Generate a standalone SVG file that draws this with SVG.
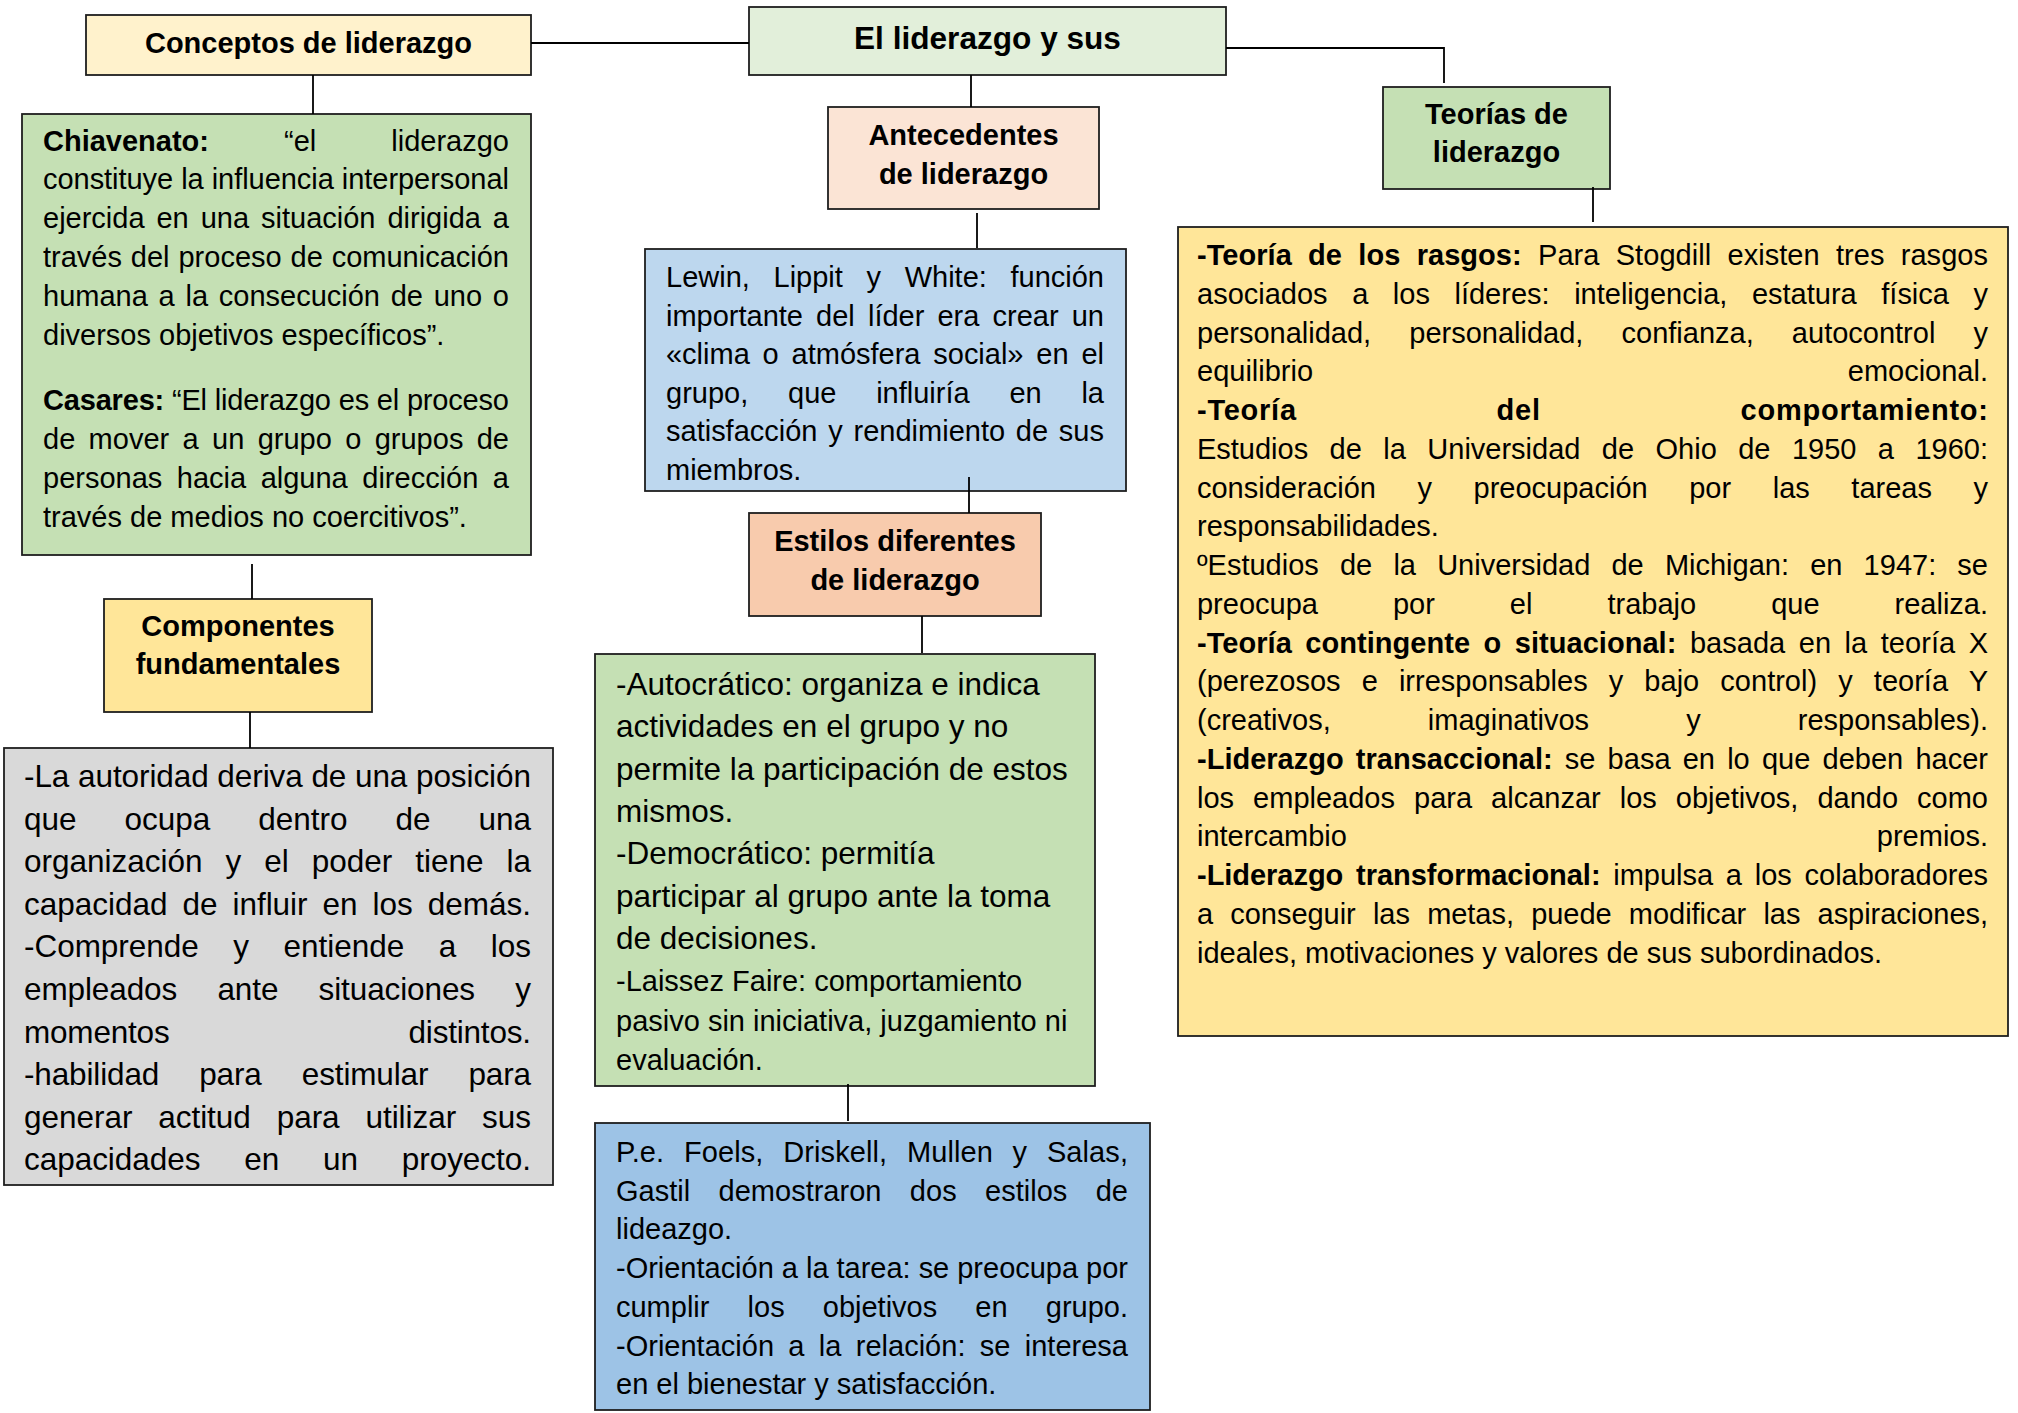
<svg xmlns="http://www.w3.org/2000/svg" width="2018" height="1413" viewBox="0 0 2018 1413">
<style>
text { font-family: "Liberation Sans", Arial, sans-serif; fill: #000; }
.hdr { font-weight: bold; font-size: 29px; text-anchor: middle; }
.title { font-weight: bold; font-size: 31.6px; text-anchor: middle; }
.body { font-size: 29px; }
.big { font-size: 31.5px; }
.b { font-weight: bold; }
.box { stroke: #1e1e1e; stroke-width: 1.8; }
.conn { stroke: #000; stroke-width: 1.8; fill: none; }
</style>
<rect x="0" y="0" width="2018" height="1413" fill="#fff"/>

<g id="node-conceptos">
<rect class="box" x="86" y="15" width="445" height="60" fill="#FFF2CC"/>
<text class="hdr" x="308.5" y="53">Conceptos de liderazgo</text>
</g>

<g id="node-titulo">
<rect class="box" x="749" y="7" width="477" height="68" fill="#E2EFDA"/>
<text class="title" x="987.5" y="49">El liderazgo y sus</text>
</g>

<g id="node-teorias">
<rect class="box" x="1383" y="87" width="227" height="102" fill="#C5E0B4"/>
<text class="hdr" x="1496.5" y="124">Teorías de</text>
<text class="hdr" x="1496.5" y="162">liderazgo</text>
</g>

<g id="node-antecedentes">
<rect class="box" x="828" y="107" width="271" height="102" fill="#FBE4D5"/>
<text class="hdr" x="963.5" y="145">Antecedentes</text>
<text class="hdr" x="963.5" y="184">de liderazgo</text>
</g>

<g id="node-chiavenato">
<rect class="box" x="22" y="114" width="509" height="441" fill="#C5E0B4"/>
<g class="body">
<text x="43" y="150.5" word-spacing="67" textLength="466" lengthAdjust="spacing"><tspan class="b">Chiavenato:</tspan> “el liderazgo</text>
<text x="43" y="189.4" textLength="466" lengthAdjust="spacing">constituye la influencia interpersonal</text>
<text x="43" y="228.3" word-spacing="3.9" textLength="466" lengthAdjust="spacing">ejercida en una situación dirigida a</text>
<text x="43" y="267.2" word-spacing="0.85" textLength="466" lengthAdjust="spacing">través del proceso de comunicación</text>
<text x="43" y="306.1" word-spacing="2.7" textLength="466" lengthAdjust="spacing">humana a la consecución de uno o</text>
<text x="43" y="345">diversos objetivos específicos”.</text>
<text x="43" y="410" textLength="466" lengthAdjust="spacing"><tspan class="b">Casares:</tspan> “El liderazgo es el proceso</text>
<text x="43" y="449" word-spacing="5.3" textLength="466" lengthAdjust="spacing">de mover a un grupo o grupos de</text>
<text x="43" y="488" word-spacing="6.5" textLength="466" lengthAdjust="spacing">personas hacia alguna dirección a</text>
<text x="43" y="527">través de medios no coercitivos”.</text>
</g>
</g>

<g id="node-componentes">
<rect class="box" x="104" y="599" width="268" height="113" fill="#FFE699"/>
<text class="hdr" x="238" y="636">Componentes</text>
<text class="hdr" x="238" y="674">fundamentales</text>
</g>

<g id="node-autoridad">
<rect class="box" x="4" y="748" width="549" height="437" fill="#D9D9D9"/>
<g class="big">
<text x="24" y="787" textLength="507" lengthAdjust="spacing">-La autoridad deriva de una posición</text>
<text x="24" y="829.6" word-spacing="39.3" textLength="507" lengthAdjust="spacing">que ocupa dentro de una</text>
<text x="24" y="872.2" word-spacing="14.3" textLength="507" lengthAdjust="spacing">organización y el poder tiene la</text>
<text x="24" y="914.8" word-spacing="6.3" textLength="507" lengthAdjust="spacing">capacidad de influir en los demás.</text>
<text x="24" y="957.4" word-spacing="25.9" textLength="507" lengthAdjust="spacing">-Comprende y entiende a los</text>
<text x="24" y="1000" word-spacing="31.6" textLength="507" lengthAdjust="spacing">empleados ante situaciones y</text>
<text x="24" y="1042.6" word-spacing="230.6" textLength="507" lengthAdjust="spacing">momentos distintos.</text>
<text x="24" y="1085.2" word-spacing="31.5" textLength="507" lengthAdjust="spacing">-habilidad para estimular para</text>
<text x="24" y="1127.8" word-spacing="17.1" textLength="507" lengthAdjust="spacing">generar actitud para utilizar sus</text>
<text x="24" y="1170.4" word-spacing="35.1" textLength="507" lengthAdjust="spacing">capacidades en un proyecto.</text>
</g>
</g>

<g id="node-lewin">
<rect class="box" x="645" y="249" width="481" height="242" fill="#BDD7EE"/>
<g class="body">
<text x="666" y="287" word-spacing="15.6" textLength="438" lengthAdjust="spacing">Lewin, Lippit y White: función</text>
<text x="666" y="325.5" word-spacing="5.1" textLength="438" lengthAdjust="spacing">importante del líder era crear un</text>
<text x="666" y="364" word-spacing="4.8" textLength="438" lengthAdjust="spacing">«clima o atmósfera social» en el</text>
<text x="666" y="402.5" word-spacing="31.7" textLength="438" lengthAdjust="spacing">grupo, que influiría en la</text>
<text x="666" y="441" word-spacing="2.7" textLength="438" lengthAdjust="spacing">satisfacción y rendimiento de sus</text>
<text x="666" y="479.5">miembros.</text>
</g>
</g>

<g id="node-estilos">
<rect class="box" x="749" y="513" width="292" height="103" fill="#F8CBAD"/>
<text class="hdr" x="895" y="551">Estilos diferentes</text>
<text class="hdr" x="895" y="590">de liderazgo</text>
</g>

<g id="node-tipos">
<rect class="box" x="595" y="654" width="500" height="432" fill="#C5E0B4"/>
<g class="big">
<text x="616" y="695">-Autocrático: organiza e indica</text>
<text x="616" y="737.3">actividades en el grupo y no</text>
<text x="616" y="779.6">permite la participación de estos</text>
<text x="616" y="822">mismos.</text>
<text x="616" y="864.3">-Democrático: permitía</text>
<text x="616" y="906.6">participar al grupo ante la toma</text>
<text x="616" y="949">de decisiones.</text>
</g>
<g class="body">
<text x="616" y="991">-Laissez Faire: comportamiento</text>
<text x="616" y="1031">pasivo sin iniciativa, juzgamiento ni</text>
<text x="616" y="1070">evaluación.</text>
</g>
</g>

<g id="node-orientacion">
<rect class="box" x="595" y="1123" width="555" height="287" fill="#9DC3E6"/>
<g class="body">
<text x="616" y="1162" word-spacing="11.5" textLength="512" lengthAdjust="spacing">P.e. Foels, Driskell, Mullen y Salas,</text>
<text x="616" y="1200.7" word-spacing="20.4" textLength="512" lengthAdjust="spacing">Gastil demostraron dos estilos de</text>
<text x="616" y="1239.4">lideazgo.</text>
<text x="616" y="1278.1" textLength="512" lengthAdjust="spacing">-Orientación a la tarea: se preocupa por</text>
<text x="616" y="1316.8" word-spacing="30.1" textLength="512" lengthAdjust="spacing">cumplir los objetivos en grupo.</text>
<text x="616" y="1355.5" word-spacing="6.3" textLength="512" lengthAdjust="spacing">-Orientación a la relación: se interesa</text>
<text x="616" y="1394.2">en el bienestar y satisfacción.</text>
</g>
</g>

<g id="node-teorias-detalle">
<rect class="box" x="1178" y="227" width="830" height="809" fill="#FFE699"/>
<g class="body">
<text x="1197" y="265" word-spacing="8.2" textLength="791" lengthAdjust="spacing"><tspan class="b">-Teoría de los rasgos:</tspan> Para Stogdill existen tres rasgos</text>
<text x="1197" y="303.75" word-spacing="16.5" textLength="791" lengthAdjust="spacing">asociados a los líderes: inteligencia, estatura física y</text>
<text x="1197" y="342.5" word-spacing="30.1" textLength="791" lengthAdjust="spacing">personalidad, personalidad, confianza, autocontrol y</text>
<text x="1197" y="381.25" word-spacing="526.7" textLength="791" lengthAdjust="spacing">equilibrio emocional.</text>
<text x="1197" y="420" word-spacing="191" textLength="791" lengthAdjust="spacing" class="b">-Teoría del comportamiento:</text>
<text x="1197" y="458.75" word-spacing="13.4" textLength="791" lengthAdjust="spacing">Estudios de la Universidad de Ohio de 1950 a 1960:</text>
<text x="1197" y="497.5" word-spacing="33.5" textLength="791" lengthAdjust="spacing">consideración y preocupación por las tareas y</text>
<text x="1197" y="536.25">responsabilidades.</text>
<text x="1197" y="575" word-spacing="13.1" textLength="791" lengthAdjust="spacing">ºEstudios de la Universidad de Michigan: en 1947: se</text>
<text x="1197" y="613.75" word-spacing="67" textLength="791" lengthAdjust="spacing">preocupa por el trabajo que realiza.</text>
<text x="1197" y="652.5" word-spacing="5.4" textLength="791" lengthAdjust="spacing"><tspan class="b">-Teoría contingente o situacional:</tspan> basada en la teoría X</text>
<text x="1197" y="691.25" word-spacing="13.05" textLength="791" lengthAdjust="spacing">(perezosos e irresponsables y bajo control) y teoría Y</text>
<text x="1197" y="730" word-spacing="89.1" textLength="791" lengthAdjust="spacing">(creativos, imaginativos y responsables).</text>
<text x="1197" y="768.75" word-spacing="4.1" textLength="791" lengthAdjust="spacing"><tspan class="b">-Liderazgo transaccional:</tspan> se basa en lo que deben hacer</text>
<text x="1197" y="807.5" word-spacing="11" textLength="791" lengthAdjust="spacing">los empleados para alcanzar los objetivos, dando como</text>
<text x="1197" y="846.25" word-spacing="521.9" textLength="791" lengthAdjust="spacing">intercambio premios.</text>
<text x="1197" y="885" word-spacing="4.8" textLength="791" lengthAdjust="spacing"><tspan class="b">-Liderazgo transformacional:</tspan> impulsa a los colaboradores</text>
<text x="1197" y="923.75" word-spacing="9.2" textLength="791" lengthAdjust="spacing">a conseguir las metas, puede modificar las aspiraciones,</text>
<text x="1197" y="962.5">ideales, motivaciones y valores de sus subordinados.</text>
</g>
</g>

<g id="connectors">
<path class="conn" d="M531,43 H749"/>
<path class="conn" d="M1226,48 H1444 V83"/>
<path class="conn" d="M971,75 V107"/>
<path class="conn" d="M977,213 V248"/>
<path class="conn" d="M969,477 V513"/>
<path class="conn" d="M922,616 V653"/>
<path class="conn" d="M848,1084 V1121"/>
<path class="conn" d="M313,75 V114"/>
<path class="conn" d="M252,564 V599"/>
<path class="conn" d="M250,712 V748"/>
<path class="conn" d="M1593,187 V222"/>
</g>
</svg>
